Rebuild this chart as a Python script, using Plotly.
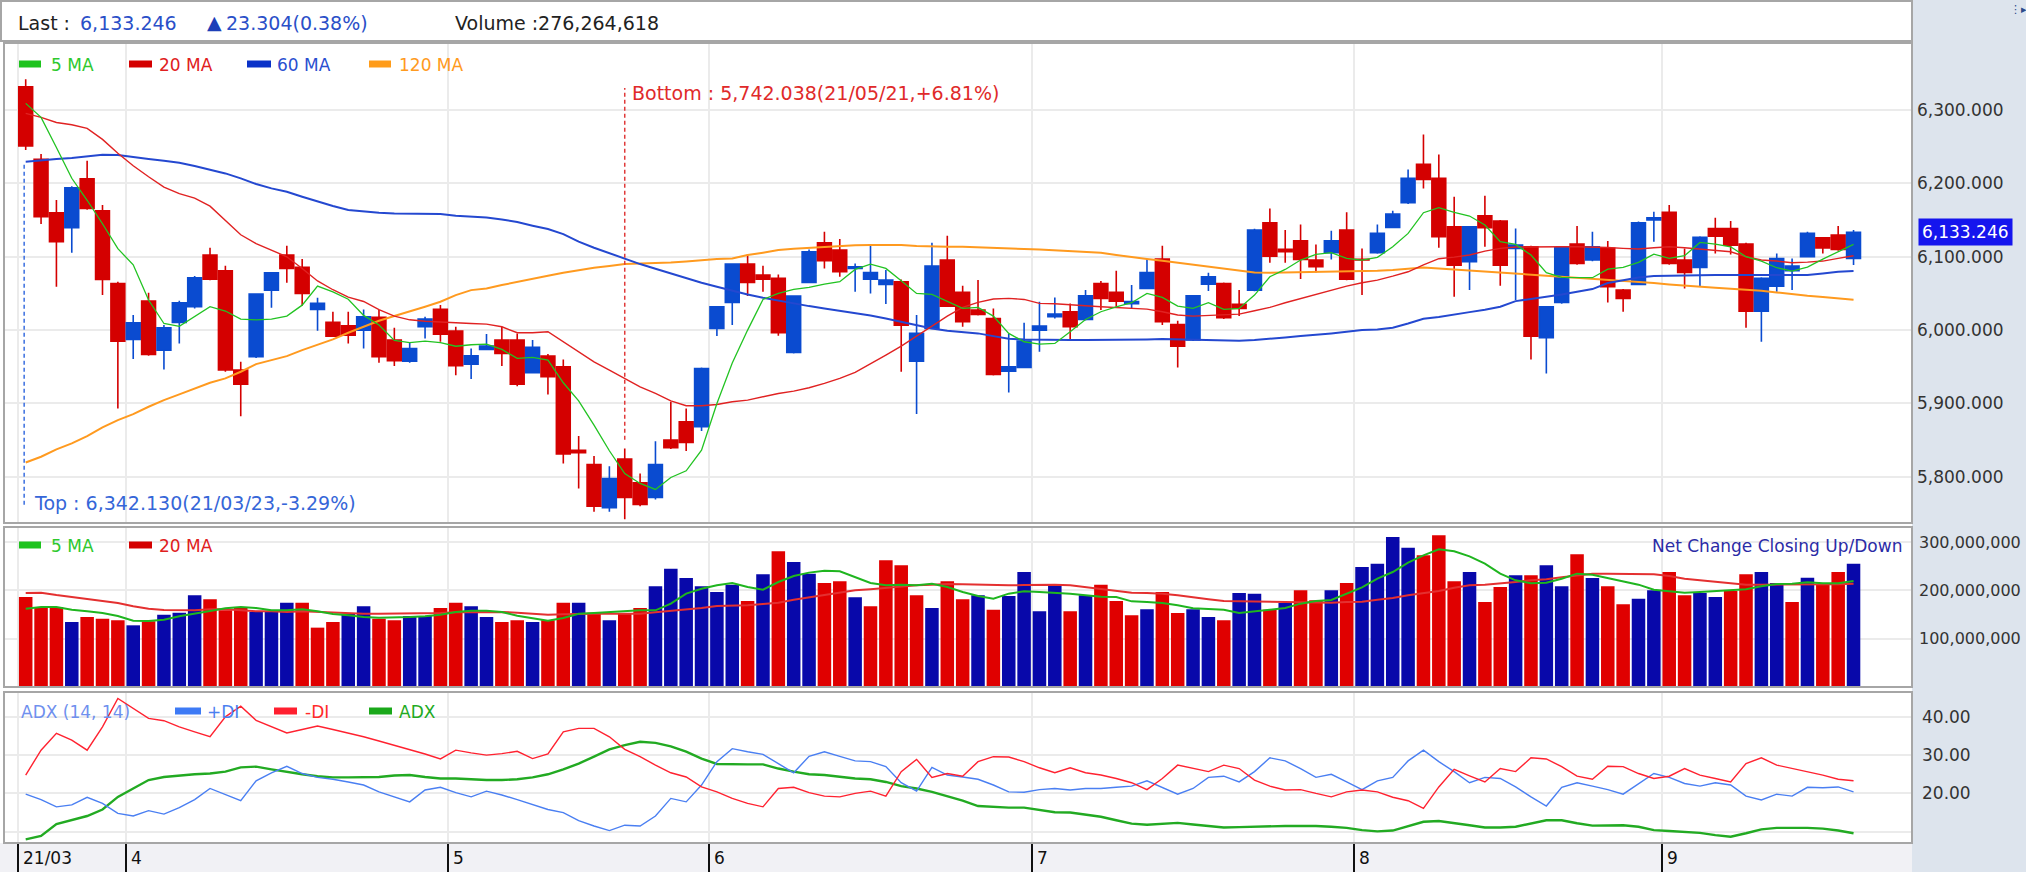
import plotly.graph_objects as go

# ---------------- data ----------------
month_labels = ["21/03", "4", "5", "6", "7", "8", "9"]
month_bar_counts = [7, 21, 17, 21, 21, 20, 13]

open_p = [6331.8, 6232.7, 6160.0, 6139.5, 6206.4, 6162.7, 6063.6, 5987.3, 6039.5, 5972.7,
          6010.5, 6031.8, 6102.3, 6080.9, 5945.5, 5963.6, 6054.5, 6102.3, 6085.5, 6028.2,
          6010.5, 6005.9, 6000.0, 6017.3, 5986.4, 5957.7, 6004.5, 6028.2, 5998.6, 5953.6,
          5973.6, 5986.4, 5986.4, 5941.8, 5964.5, 5950.0, 5836.0, 5816.8, 5757.7, 5824.1,
          5791.8, 5771.8, 5850.0, 5875.0, 5868.2, 6002.3, 6037.7, 6090.0, 6075.0, 6070.5,
          5969.5, 6065.0, 6119.1, 6109.1, 6084.1, 6069.5, 6062.3, 6065.9, 5957.7, 6002.3,
          6095.5, 6051.4, 6027.3, 6015.9, 5944.1, 5949.1, 6000.0, 6018.2, 6025.0, 6014.5,
          6063.6, 6051.4, 6036.0, 6056.8, 6096.8, 6007.7, 5986.4, 6062.7, 6063.6, 6035.0,
          6054.5, 6146.4, 6110.0, 6121.8, 6095.5, 6105.5, 6136.4, 6096.4, 6105.5, 6140.0,
          6173.6, 6225.9, 6206.8, 6140.9, 6093.2, 6155.9, 6148.6, 6111.4, 6113.6, 5989.5,
          6037.7, 6117.3, 6095.5, 6111.4, 6054.5, 6062.3, 6150.0, 6160.5, 6095.5, 6085.5,
          6138.6, 6138.6, 6117.3, 6025.9, 6060.0, 6080.9, 6100.0, 6125.9, 6129.5, 6097.7]
high_p = [6342.13, 6240.0, 6177.3, 6196.0, 6230.9, 6170.5, 6065.9, 6020.5, 6050.9, 6006.8,
          6040.0, 6073.6, 6112.3, 6087.7, 5956.8, 6050.0, 6079.0, 6115.0, 6096.8, 6044.1,
          6025.0, 6025.0, 6028.2, 6027.3, 6003.2, 5982.7, 6018.2, 6034.1, 6004.5, 5975.0,
          5994.5, 6004.5, 5995.5, 5986.4, 5967.3, 5960.0, 5855.5, 5828.2, 5814.5, 5838.6,
          5804.5, 5848.6, 5902.3, 5893.2, 5949.0, 6033.0, 6091.0, 6103.6, 6087.7, 6075.9,
          6047.0, 6110.0, 6134.1, 6124.1, 6090.9, 6115.9, 6081.8, 6069.1, 6020.5, 6119.1,
          6128.6, 6060.5, 6068.2, 6029.5, 5994.5, 6010.0, 6038.6, 6044.5, 6036.4, 6054.5,
          6066.8, 6080.9, 6061.4, 6096.8, 6115.0, 6012.7, 6048.0, 6078.2, 6065.0, 6054.5,
          6138.0, 6165.9, 6136.4, 6144.1, 6116.8, 6135.5, 6160.5, 6111.4, 6144.1, 6162.7,
          6219.1, 6266.8, 6239.5, 6181.8, 6142.0, 6183.2, 6150.0, 6138.6, 6115.0, 6033.0,
          6113.0, 6141.8, 6134.1, 6121.4, 6056.0, 6148.0, 6161.4, 6170.5, 6111.4, 6128.0,
          6153.2, 6148.6, 6119.0, 6072.0, 6104.5, 6097.7, 6134.1, 6127.0, 6141.8, 6136.4]
low_p = [6245.5, 6144.5, 6059.1, 6105.5, 6164.0, 6047.7, 5893.2, 5960.5, 5965.0, 5946.4,
         5981.8, 6029.5, 6068.0, 5943.2, 5882.7, 5962.0, 6030.5, 6064.5, 6033.2, 5999.1,
         5990.9, 5981.8, 5975.0, 5955.5, 5950.9, 5955.5, 5988.6, 5984.1, 5938.6, 5933.2,
         5972.7, 5950.9, 5923.6, 5940.9, 5912.3, 5818.2, 5784.0, 5752.3, 5752.3, 5742.038,
         5760.0, 5769.0, 5838.0, 5835.0, 5862.3, 5991.8, 6006.8, 6046.4, 6052.3, 5992.3,
         5968.0, 6064.0, 6084.1, 6072.7, 6052.3, 6050.0, 6035.5, 5943.2, 5885.5, 6001.0,
         6032.0, 6004.5, 6020.0, 5938.0, 5915.0, 5948.0, 5970.5, 6015.9, 5987.3, 6013.0,
         6027.3, 6031.8, 6029.5, 6056.0, 6006.8, 5949.1, 5985.0, 6053.2, 6015.0, 6019.1,
         6053.0, 6091.8, 6091.8, 6069.5, 6078.6, 6096.4, 6068.0, 6047.7, 6104.0, 6139.0,
         6172.0, 6193.2, 6112.3, 6045.5, 6054.5, 6113.6, 6060.5, 6040.9, 5960.0, 5940.9,
         6036.0, 6089.0, 6094.0, 6037.7, 6025.0, 6061.0, 6120.5, 6089.0, 6056.8, 6059.0,
         6104.5, 6103.2, 6003.2, 5984.1, 6052.3, 6054.5, 6099.0, 6104.5, 6108.0, 6088.6]
close_p = [6250.9, 6154.5, 6120.5, 6194.1, 6165.9, 6069.1, 5985.0, 6010.0, 5966.8, 6003.2,
           6037.3, 6071.4, 6069.5, 5945.5, 5926.4, 6049.1, 6078.2, 6084.1, 6050.0, 6036.4,
           5991.8, 5993.0, 6018.2, 5963.6, 5958.2, 5975.0, 6015.0, 5994.5, 5951.4, 5965.0,
           5978.2, 5968.2, 5926.4, 5976.4, 5936.4, 5831.0, 5833.0, 5760.0, 5797.7, 5771.8,
           5762.3, 5816.8, 5839.5, 5846.8, 5947.7, 6031.8, 6090.0, 6065.0, 6069.5, 5996.4,
           6046.4, 6106.8, 6094.5, 6079.5, 6086.4, 6078.6, 6068.2, 6006.8, 5995.5, 6087.3,
           6032.7, 6011.4, 6021.4, 5939.5, 5950.0, 5985.0, 6005.5, 6021.8, 6004.5, 6046.8,
           6043.2, 6039.5, 6039.0, 6078.6, 6011.4, 5978.2, 6046.8, 6072.7, 6016.8, 6029.5,
           6136.4, 6100.9, 6106.8, 6096.4, 6086.4, 6121.8, 6069.5, 6095.5, 6131.8, 6158.2,
           6206.8, 6205.5, 6127.3, 6088.6, 6140.9, 6139.5, 6088.6, 6115.9, 5991.8, 6031.8,
           6112.3, 6090.9, 6113.6, 6059.1, 6043.2, 6146.4, 6153.2, 6090.9, 6078.6, 6126.5,
           6128.0, 6115.9, 6025.9, 6070.5, 6097.7, 6087.3, 6131.8, 6112.0, 6109.942, 6133.246]

ma5 = [6309.1, 6290, 6249, 6207, 6177, 6145, 6111, 6089, 6041, 6009,
       6005, 6019, 6032, 6026, 6015, 6014, 6015, 6019, 6034, 6060,
       6052, 6042, 6020, 6007, 5986, 5983, 5985, 5983, 5978, 5980,
       5980.9, 5973.6, 5961.4, 5962.7, 5959.1, 5928.2, 5903.6, 5870.5, 5835.5, 5804.5,
       5790.9, 5782.7, 5799.1, 5808.2, 5836.4, 5900, 5955, 6000, 6041.8, 6050,
       6055.5, 6058.2, 6062.7, 6065.9, 6082.7, 6090, 6084.1, 6067.3, 6050, 6048.6,
       6038.6, 6029.5, 6030.9, 6019.1, 5995.5, 5984.1, 5980.9, 5981.8, 5997.7, 6014.5,
       6025, 6031.8, 6037.3, 6050, 6044.5, 6032.7, 6029.5, 6037.3, 6028.2, 6029.5,
       6047.7, 6072.7, 6082.7, 6095.5, 6103.2, 6105.5, 6097.7, 6095.5, 6099.1, 6113.6,
       6131.8, 6160, 6166.8, 6160.5, 6155.5, 6143.2, 6120.5, 6116.8, 6102.3, 6078.2,
       6071.8, 6071.4, 6071.4, 6083.2, 6085.5, 6092.3, 6103.6, 6097.7, 6101.4, 6119.5,
       6117.3, 6113.6, 6100, 6094.1, 6085, 6080.5, 6085.9, 6096.8, 6106.8, 6116.8]
ma20 = [6295.5, 6290, 6283, 6280, 6275, 6260, 6241, 6224, 6209, 6195,
        6186, 6180, 6169, 6150, 6130, 6118, 6109, 6100, 6084, 6067,
        6055, 6045, 6039, 6028, 6019, 6014, 6012, 6011, 6009, 6009,
        6008.2, 6004.5, 5996.4, 5996.4, 5997.7, 5984.1, 5970.5, 5956.8, 5945.5, 5934.1,
        5922.7, 5913.6, 5903.6, 5896.8, 5896.8, 5898.6, 5902.3, 5904.5, 5909.1, 5913.6,
        5916.8, 5921.4, 5927.3, 5934.1, 5942.3, 5953.6, 5965.9, 5978.2, 5991.8, 6004.5,
        6019.1, 6030.9, 6037.7, 6042.3, 6043.2, 6041.8, 6036.4, 6035.9, 6035, 6033.2,
        6031.8, 6030.9, 6029.5, 6028.6, 6025, 6020.5, 6019.1, 6020, 6020.5, 6021.8,
        6026.4, 6030.9, 6037.3, 6043.2, 6049.1, 6054.5, 6060, 6064.5, 6068.2, 6073.6,
        6079.5, 6089, 6097.3, 6099.5, 6102.3, 6107.7, 6111.4, 6113.2, 6113.6, 6113.6,
        6113.6, 6113.6, 6113.6, 6112.7, 6111.4, 6110.5, 6112.3, 6113.6, 6112.3, 6110.5,
        6109.1, 6106.8, 6100, 6095.5, 6094.1, 6091.8, 6092.7, 6094.1, 6097.7, 6101.4]
ma60 = [6229.5, 6231.8, 6233.2, 6234.5, 6236.4, 6239.1, 6238.6, 6235.5, 6233.2, 6230.9,
        6228.2, 6223.6, 6219.1, 6213.6, 6206.8, 6199.1, 6193.2, 6188.6, 6181.8, 6175,
        6169.1, 6163.6, 6161.4, 6160, 6159.1, 6159.1, 6159.1, 6158.2, 6155.9, 6154.5,
        6153.6, 6150.9, 6147.3, 6142.3, 6137.7, 6130.9, 6120.5, 6112.3, 6104.5, 6096.8,
        6090, 6083.6, 6077.3, 6070.5, 6064.5, 6059.1, 6053.6, 6048.6, 6044.1, 6040,
        6036.4, 6032.7, 6029.5, 6026.4, 6023.6, 6020, 6015.9, 6011.4, 6006.8, 6002.3,
        5999.1, 5997.7, 5995.5, 5991.8, 5988.2, 5987.3, 5986.8, 5986.4, 5986.4, 5986.4,
        5986.4, 5986.8, 5987.3, 5987.3, 5987.7, 5987.3, 5986.8, 5986.4, 5985.9, 5985.5,
        5986.4, 5988.6, 5990, 5991.8, 5993.2, 5995.5, 5997.7, 6000, 6000.9, 6003.2,
        6009.1, 6015.5, 6017.7, 6021.4, 6024.5, 6027.7, 6031.8, 6039.5, 6042.3, 6045,
        6048.6, 6052.3, 6055.9, 6064.1, 6068.2, 6071.8, 6073.6, 6074.1, 6074.5, 6075,
        6075, 6075, 6075, 6075, 6075, 6075, 6075, 6077.3, 6079.5, 6080.5]
ma120 = [5819.5, 5827.3, 5837.3, 5845.5, 5855.5, 5867.3, 5877.3, 5885.5, 5895.5, 5904.5,
         5912.3, 5920.5, 5928.2, 5934.1, 5943.2, 5953.6, 5959.1, 5964.5, 5972.7, 5979.5,
         5987.3, 5996.4, 6004.5, 6012.7, 6019.1, 6025, 6031.8, 6038.6, 6047.7, 6054.5,
         6056.8, 6061.4, 6065.9, 6070, 6074.1, 6078.2, 6081.8, 6085, 6087.3, 6090,
         6090.9, 6091.4, 6092.3, 6093.6, 6095.5, 6096.8, 6097.7, 6102.3, 6105.5, 6109.1,
         6110.9, 6112.3, 6113.6, 6115, 6115.5, 6115.9, 6115.9, 6115.9, 6114.5, 6113.6,
         6113.6, 6113.6, 6112.7, 6111.4, 6110.9, 6110.5, 6110, 6109.1, 6108.2, 6107.3,
         6105.5, 6102.3, 6099.1, 6096.8, 6094.5, 6091.8, 6088.6, 6086.4, 6083.2, 6080.5,
         6078.6, 6078.2, 6078.6, 6079.1, 6079.5, 6079.5, 6079.5, 6080, 6080.9, 6081.8,
         6083.2, 6085.5, 6084.1, 6082.7, 6081.4, 6079.5, 6078.2, 6076.8, 6075.5, 6074.1,
         6072.7, 6071.4, 6070.5, 6069.1, 6067.3, 6065.5, 6064.1, 6062.3, 6060.5, 6058.6,
         6057.7, 6056.4, 6055.5, 6053.6, 6051.4, 6048.6, 6046.8, 6045, 6043.2, 6041.4]

volume_m = [186, 165.5, 165.5, 134.5, 144.8, 141.4, 137.9, 127.6, 135.9, 149.7,
            153.8, 189.7, 181.4, 158.6, 163.4, 155.2, 155.2, 174.5, 174.5, 122.8,
            134.5, 151.7, 166.9, 141.4, 137.9, 146.9, 146.9, 163.4, 174.5, 166.9,
            144.8, 134.5, 137.9, 134.5, 137.9, 174.5, 174.5, 153.8, 137.9, 151.7,
            163.4, 208.3, 244.8, 225.5, 208.3, 196.6, 211.7, 177.9, 233.1, 280.7,
            258.6, 234.5, 215.2, 218.6, 185.5, 166.9, 262.1, 251.7, 189.7, 163.4,
            218.6, 181.4, 189.7, 160, 188.3, 237.9, 156.6, 210.3, 156.6, 189.7,
            211.7, 177.9, 148.3, 160.7, 196.6, 153.1, 160.7, 144.8, 137.9, 194.5,
            193.1, 160, 173.8, 200, 179.3, 200, 215.2, 248.3, 255.2, 310.3,
            288.3, 272.4, 313.8, 218.6, 237.9, 175.9, 206.9, 231, 231, 251.7,
            208.3, 274.5, 225.5, 208.3, 171, 182.8, 200, 237.9, 189.7, 194.5,
            186.2, 198.6, 233.1, 237.9, 215.2, 175.9, 226.2, 213.8, 237.9, 255.2]
# U = close above previous close (blue), D = below (red)
volume_direction = ("DDDUDDDUDU" "UUDDDUUUDD" "DUUDDUUDDU" "UDDUDDUDUD"
                    "DUUUUUUDUD" "UUDDUDDDDU" "DDUDUUUUDU" "DDDUDDUUDU"
                    "UDUDDUDUUU" "UDDDUDDUDU" "UDUDDUUDDU" "UDDUUDUDDU")
vol_ma5_m = [162, 165.5, 165.5, 160, 156.6, 153.1, 146.9, 137.2, 136.6, 139.3,
             146.2, 152.4, 157.2, 162.8, 165.5, 163.4, 158.6, 158.6, 160.7, 156.6,
             151, 148.3, 144.8, 143.4, 143.4, 144.8, 146.2, 149.7, 155.2, 157.9,
             157.9, 155.2, 147.6, 142.8, 137.2, 142.8, 151.7, 153.1, 155.2, 157.2,
             158.6, 158.6, 172.4, 193.1, 203.4, 210.3, 215.2, 206.9, 201.4, 217.2,
             229.7, 236.6, 240.7, 239.3, 227.6, 215.2, 210.3, 211.7, 210.3, 213.8,
             206.9, 196.6, 188.3, 182.8, 193.1, 197.9, 196.6, 195.2, 193.1, 189.7,
             186.9, 186.2, 177.2, 175.9, 173.8, 169, 162.8, 161.4, 160, 153.1,
             156.6, 160.7, 163.4, 172.4, 177.9, 180, 193.1, 206.2, 224.1, 237.9,
             257.2, 272.4, 284.8, 280.7, 270.3, 255.2, 234.5, 220.7, 214.5, 215.9,
             224.1, 234.5, 232.4, 225.5, 217.2, 211.7, 201.4, 197.9, 195.2, 196.6,
             198.6, 200, 202.1, 208.3, 213.1, 213.8, 216.6, 214.5, 214.5, 219.3]
vol_ma20_m = [194.5, 195.2, 190.3, 186.2, 181.4, 177.9, 173.8, 166.9, 162.1, 159.3,
              158.6, 158.6, 160.7, 160.7, 158.6, 156.6, 156.6, 155.2, 156.6, 155.2,
              153.1, 151.7, 151.7, 151.7, 151.7, 151.7, 151.7, 153.1, 154.5, 155.2,
              155.2, 155.2, 153.8, 151.7, 149.7, 150.3, 151.7, 151.7, 151.7, 151.7,
              151.7, 154.5, 157.2, 160, 163.4, 167.6, 168.3, 169, 171.7, 174.5,
              180.7, 185.5, 191, 195.9, 200, 202.1, 204.8, 208.9, 210.3, 211.7,
              213.1, 212.4, 211.7, 210.3, 210.3, 211, 211.7, 211.7, 210.3, 206.9,
              202.8, 198.6, 195.2, 194.5, 193.1, 189.7, 184.8, 181.4, 177.9, 177.2,
              177.2, 176.6, 176.6, 175.9, 175.2, 174.5, 175.9, 176.6, 180.7, 184.1,
              189.7, 193.8, 198.6, 205.5, 210.3, 211.7, 213.8, 217.2, 220.7, 222.8,
              226.9, 231, 234.5, 234.5, 234.5, 234.5, 233.1, 229.7, 224.1, 220.7,
              217.2, 213.8, 211.7, 211.7, 211.7, 211.7, 211.7, 211.7, 212.4, 213.8]

plus_di = [19.8, 18.4, 16.5, 17, 19, 17.4, 14.8, 14.1, 15.5, 14.6,
           16.3, 18.4, 21.3, 19.6, 18.1, 23.3, 25.4, 27.1, 25.2, 24.2,
           23.7, 23, 22.2, 20.4, 19.1, 17.8, 20.9, 21.6, 20.2, 19.1,
           20.6, 19.6, 18.4, 17, 15.8, 15, 12.9, 11.5, 10.3, 11.7,
           11.5, 14.1, 18.7, 17.8, 22.2, 28.3, 31.7, 30.9, 30.2, 27.8,
           25.4, 29.7, 30.9, 29.7, 28.5, 28.3, 27, 22.8, 20.6, 26.8,
           24.8, 24.3, 23.7, 22.2, 20.4, 20.3, 21, 21.3, 20.9, 21.3,
           21.3, 21.6, 21.9, 23.3, 21.5, 19.8, 21.3, 24.2, 24.5, 23,
           25.7, 29.3, 28.5, 26.5, 24.2, 25, 23, 21, 23.3, 24.2,
           28.5, 31.3, 28.3, 25.7, 22.8, 24.2, 23.9, 21.7, 19.1, 16.7,
           21.6, 22.8, 21.9, 21, 19.8, 22.6, 25.2, 24.2, 22.6, 21.9,
           22.8, 22.2, 19.3, 18.3, 19.8, 19.3, 21.6, 21.5, 21.7, 20.4]
minus_di = [24.8, 31.3, 35.7, 33.9, 31.3, 37.4, 44.8, 42.2, 39.6, 39,
            37.4, 36.1, 34.8, 40, 42.8, 39.1, 37.4, 35.8, 36.7, 37.6,
            36.7, 35.8, 34.8, 33.7, 32.6, 31.6, 30.3, 29, 31.3, 30.6,
            30, 30.4, 31, 29.1, 30.3, 36.1, 37, 37, 34.8, 31.5,
            29.6, 27.4, 25.4, 24.3, 21.7, 20.4, 18.7, 17.4, 16.5, 21.3,
            21.6, 20.2, 19.3, 19.1, 20, 20.6, 19.3, 25.7, 28.9, 24.2,
            25.2, 24.5, 28.3, 29.6, 29.5, 28.3, 26.7, 25.4, 26.7, 25.4,
            24.8, 23.9, 22.8, 21, 23.9, 27.4, 26.5, 25.7, 27.4, 26.5,
            23.5, 21.9, 20.9, 21, 20, 19.1, 20.4, 20.9, 20.4, 19,
            18.1, 16.1, 21.7, 26.3, 24.6, 23, 26.5, 25.7, 29.3, 29,
            27, 24.5, 23.7, 27.1, 27, 25.2, 23.9, 24.5, 26.5, 24.8,
            23.9, 23, 27.8, 29.3, 27.4, 26.5, 25.7, 24.8, 23.7, 23.3]
adx = [8, 8.9, 12, 13, 14.1, 15.8, 19.1, 21.3, 23.5, 24.3,
       24.7, 25, 25.2, 25.7, 26.8, 27, 26.3, 25.6, 25, 24.5,
       24.2, 24.2, 24.2, 24.3, 24.7, 24.8, 24.3, 23.9, 23.9, 23.7,
       23.5, 23.5, 23.7, 24.2, 25, 26.3, 27.8, 29.6, 31.5, 32.6,
       33.5, 33.2, 32.3, 30.9, 29.1, 27.7, 27.6, 27.6, 27.6, 26.5,
       25.7, 25, 24.8, 24.3, 23.9, 23.7, 23, 21.9, 21.3, 20.4,
       19.3, 18.1, 16.7, 16.5, 16.3, 16.3, 15.7, 15.1, 15, 14.5,
       13.9, 13, 12.1, 11.8, 12, 12.3, 11.9, 11.5, 11.1, 11.2,
       11.3, 11.5, 11.5, 11.5, 11.5, 11.3, 11, 10.4, 10.1, 10.3,
       11.5, 12.6, 12.8, 12.3, 11.7, 11.1, 11.1, 11.3, 12.2, 13,
       13, 12.2, 11.6, 11.7, 11.7, 11.3, 10.4, 10.2, 10, 9.7,
       9.1, 8.7, 9.6, 10.6, 11, 11, 11, 10.8, 10.3, 9.6]

price_ticks = [5800, 5900, 6000, 6100, 6200, 6300]
volume_ticks = [100e6, 200e6, 300e6]
adx_ticks = [10, 20, 30, 40]
last_price = 6133.246
last_change = 23.304
last_volume = 276264618
top_date = "21/03/23"
bottom_date = "21/05/21"

# ---------------- layout geometry (pixels) ----------------
FW, FH = 2026, 872
L, R, T, B = 4, 1912, 43, 843


def px(x):
    return (x - L) / (R - L)


def py(y):
    return (B - y) / (B - T)


FONT = "DejaVu Sans"
RED_C = "#d40000"
BLUE_C = "#0a4bd0"
VOL_RED = "#e00000"
VOL_BLUE = "#0808aa"
GRID = "#ebebeb"
BORDER = "#a6a6a6"

n = len(close_p)
xs = list(range(n))
starts = []
acc = 0
for c in month_bar_counts:
    starts.append(acc)
    acc += c
bounds = [s - 0.5 for s in starts]

volume = [v * 1e6 for v in volume_m]
vol_ma5 = [v * 1e6 for v in vol_ma5_m]
vol_ma20 = [v * 1e6 for v in vol_ma20_m]
vol_colors = [VOL_BLUE if d == "U" else VOL_RED for d in volume_direction]

main_dom = [py(523), 1.0]
vol_dom = [py(687), py(527)]
adx_dom = [0.0, py(692)]
price_range = [5737.0, 6391.4]
vol_range = [0, 331e6]
adx_range = [7.05, 46.5]
x_range = [(L - 25.7) / 15.36, (R - 25.7) / 15.36]


def price_at_px(y):
    return price_range[0] + (523 - y) / 480 * (price_range[1] - price_range[0])


fig = go.Figure()

fig.add_trace(go.Candlestick(
    x=xs, open=open_p, high=high_p, low=low_p, close=close_p,
    increasing=dict(line=dict(color=BLUE_C, width=1.6), fillcolor=BLUE_C),
    decreasing=dict(line=dict(color=RED_C, width=1.6), fillcolor=RED_C),
    whiskerwidth=0, xaxis="x", yaxis="y", hoverinfo="skip"))

for vals, col, w in [(ma120, "#ff9a1f", 2.0), (ma60, "#2448d0", 2.0),
                     (ma20, "#e02222", 1.4), (ma5, "#22c322", 1.3)]:
    fig.add_trace(go.Scatter(x=xs, y=vals, mode="lines", line=dict(color=col, width=w),
                             xaxis="x", yaxis="y", hoverinfo="skip"))

fig.add_trace(go.Bar(x=xs, y=volume, marker=dict(color=vol_colors, line=dict(width=0)),
                     width=0.88, xaxis="x2", yaxis="y2", hoverinfo="skip"))
fig.add_trace(go.Scatter(x=xs, y=vol_ma20, mode="lines", line=dict(color="#e43030", width=2),
                         xaxis="x2", yaxis="y2", hoverinfo="skip"))
fig.add_trace(go.Scatter(x=xs, y=vol_ma5, mode="lines", line=dict(color="#1fb51f", width=2),
                         xaxis="x2", yaxis="y2", hoverinfo="skip"))

fig.add_trace(go.Scatter(x=xs, y=adx, mode="lines", line=dict(color="#22aa22", width=2.4),
                         xaxis="x3", yaxis="y3", hoverinfo="skip"))
fig.add_trace(go.Scatter(x=xs, y=plus_di, mode="lines", line=dict(color="#4a7ff2", width=1.4),
                         xaxis="x3", yaxis="y3", hoverinfo="skip"))
fig.add_trace(go.Scatter(x=xs, y=minus_di, mode="lines", line=dict(color="#ff2230", width=1.4),
                         xaxis="x3", yaxis="y3", hoverinfo="skip"))

# ---------------- shapes ----------------
shapes = []
# right axis panel background
shapes.append(dict(type="rect", xref="paper", yref="paper", x0=px(R), x1=px(FW + 5),
                   y0=py(FH + 5), y1=py(-5), fillcolor="#dde4ed", line=dict(width=0), layer="below"))
# x label strip
shapes.append(dict(type="rect", xref="paper", yref="paper", x0=px(0), x1=px(R),
                   y0=py(FH + 5), y1=py(B), fillcolor="#f1f1f5", line=dict(width=0), layer="below"))
# header box
shapes.append(dict(type="rect", xref="paper", yref="paper", x0=px(1), x1=px(R),
                   y0=py(41), y1=py(1), fillcolor="white", line=dict(color=BORDER, width=2), layer="below"))
# panel frames
for y0p, y1p in [(523, T), (687, 527), (B, 692)]:
    shapes.append(dict(type="rect", xref="paper", yref="paper", x0=0, x1=1,
                       y0=py(y0p), y1=py(y1p), line=dict(color=BORDER, width=2), layer="above"))

top_idx = max(range(n), key=lambda i: high_p[i])
bot_idx = min(range(n), key=lambda i: low_p[i])
shapes.append(dict(type="line", xref="x", yref="y", x0=top_idx - 0.1, x1=top_idx - 0.1,
                   y0=low_p[top_idx] - 20, y1=price_at_px(506),
                   line=dict(color="#3a6ee0", width=1.5, dash="4px,3px")))
shapes.append(dict(type="line", xref="x", yref="y", x0=bot_idx, x1=bot_idx,
                   y0=high_p[bot_idx] + 12, y1=price_at_px(88),
                   line=dict(color="#e03a3a", width=1.5, dash="4px,3px")))


def legend_marker(x0, x1, ycen, color):
    shapes.append(dict(type="rect", xref="paper", yref="paper", x0=px(x0), x1=px(x1),
                       y0=py(ycen + 3.5), y1=py(ycen - 3.5), fillcolor=color,
                       line=dict(width=0), layer="above"))


annotations = []


def text_at(x, y, text, color, size=18, anchor="left"):
    annotations.append(dict(xref="paper", yref="paper", x=px(x), y=py(y), text=text,
                            showarrow=False, xanchor=anchor, yanchor="middle",
                            font=dict(family=FONT, size=size, color=color)))


# main legend
for mx0, mx1, tx, label, col, tcol in [
        (19, 41, 51, "5 MA", "#1ec31e", "#2ec82e"),
        (129, 152, 159, "20 MA", "#d40000", "#e02020"),
        (247, 271, 277, "60 MA", "#0a32c8", "#2a4fd0"),
        (369, 391, 399, "120 MA", "#ff9c1a", "#ff9a20")]:
    legend_marker(mx0, mx1, 64, col)
    text_at(tx - 2, 65, label, tcol, 17)

# volume legend
for mx0, mx1, tx, label, col, tcol in [
        (19, 41, 51, "5 MA", "#1ec31e", "#2ec82e"),
        (129, 152, 159, "20 MA", "#d40000", "#e02020")]:
    legend_marker(mx0, mx1, 545, col)
    text_at(tx - 2, 546, label, tcol, 17)
text_at(1904, 546, "Net Change Closing Up/Down", "#2b2ba6", 17, "right")

# ADX legend
text_at(19, 712, "ADX (14, 14)", "#6f90ee", 17)
for mx0, mx1, tx, label, col, tcol in [
        (175, 201, 207, "+DI", "#3d7af5", "#4a80f0"),
        (274, 297, 305, "-DI", "#ff1f2f", "#ff2a2a"),
        (369, 392, 399, "ADX", "#1aa81a", "#22aa22")]:
    legend_marker(mx0, mx1, 711, col)
    text_at(tx - 2, 712, label, tcol, 17)

# header
prev_close = last_price - last_change
text_at(16, 23, "Last : ", "#222222", 19)
text_at(78, 23, f"{last_price:,.3f}", "#2a4fc8", 19)
text_at(205, 22, "▲", "#1d3fb8", 19)
text_at(224, 23, f"{last_change:.3f}({last_change / prev_close * 100:.2f}%)", "#2a4fc8", 19)
text_at(453, 23, f"Volume :{last_volume:,}", "#222222", 19)
# small panel-menu glyph in the top-right corner
text_at(2008, 9, "⋮▸", "#2b4a8a", 11)

# top / bottom annotations
top_pct = (last_price / high_p[top_idx] - 1) * 100
bot_pct = (last_price / low_p[bot_idx] - 1) * 100
annotations.append(dict(xref="x", yref="y domain", x=top_idx, y=(523 - 503) / 480,
                        xshift=6, xanchor="left", yanchor="middle", showarrow=False,
                        text=f"Top : {high_p[top_idx]:,.3f}({top_date},{top_pct:.2f}%)",
                        font=dict(family=FONT, size=19, color="#3566d8")))
annotations.append(dict(xref="x", yref="y domain", x=bot_idx, y=(523 - 93) / 480,
                        xshift=5, xanchor="left", yanchor="middle", showarrow=False,
                        text=f"Bottom : {low_p[bot_idx]:,.3f}({bottom_date},{bot_pct:+.2f}%)",
                        font=dict(family=FONT, size=19, color="#e02a2a")))

# month labels under the ADX panel
for b, lab in zip(bounds, month_labels):
    annotations.append(dict(xref="x", yref="paper", x=b, y=py(858), xshift=3,
                            xanchor="left", yanchor="middle", showarrow=False, text=lab,
                            font=dict(family=FONT, size=17, color="#111111")))

# last price box on the price axis
annotations.append(dict(xref="paper", yref="y", x=1, y=last_price, xshift=6,
                        xanchor="left", yanchor="middle", showarrow=False,
                        text=f"{last_price:,.3f}", bgcolor="#1515ee", borderpad=3,
                        font=dict(family=FONT, size=17, color="white")))

axis_font = dict(family=FONT, size=17, color="#333333")
common_x = dict(range=x_range, tickvals=bounds, showticklabels=False, showgrid=True,
                gridcolor=GRID, gridwidth=1.5, zeroline=False, showline=False,
                automargin=False, fixedrange=True)

fig.update_layout(
    width=FW, height=FH, template="none",
    margin=dict(l=L, r=FW - R, t=T, b=FH - B, pad=0),
    paper_bgcolor="white", plot_bgcolor="white",
    showlegend=False, boxgap=0.05, boxgroupgap=0.05, bargap=0.1,
    font=dict(family=FONT),
    xaxis=dict(domain=[0, 1], anchor="y", ticks="", rangeslider=dict(visible=False), **common_x),
    xaxis2=dict(domain=[0, 1], anchor="y2", matches="x", ticks="", **common_x),
    xaxis3=dict(domain=[0, 1], anchor="y3", matches="x", ticks="outside", ticklen=FH - B,
                tickwidth=1.5, tickcolor="#111111", **common_x),
    yaxis=dict(domain=main_dom, anchor="x", side="right", range=price_range,
               tickvals=price_ticks, ticktext=[f"{v:,.3f}" for v in price_ticks],
               showgrid=True, gridcolor=GRID, gridwidth=2, zeroline=False, ticks="",
               tickfont=axis_font, automargin=False, ticklabelstandoff=4, fixedrange=True),
    yaxis2=dict(domain=vol_dom, anchor="x2", side="right", range=vol_range,
                tickvals=volume_ticks, ticktext=[f"{v:,.0f}" for v in volume_ticks],
                showgrid=True, gridcolor=GRID, gridwidth=2, zeroline=False, ticks="",
                tickfont=dict(family=FONT, size=16, color="#333333"), automargin=False,
                ticklabelstandoff=6, fixedrange=True),
    yaxis3=dict(domain=adx_dom, anchor="x3", side="right", range=adx_range,
                tickvals=adx_ticks, ticktext=["" if v == 10 else f"{v:.2f}" for v in adx_ticks],
                showgrid=True, gridcolor=GRID, gridwidth=2, zeroline=False, ticks="",
                tickfont=axis_font, automargin=False, ticklabelstandoff=9, fixedrange=True),
    shapes=shapes, annotations=annotations,
)

fig.write_html("out.html", config={"displayModeBar": False},
               post_script="document.body.style.margin='0';document.body.style.overflow='hidden';")
